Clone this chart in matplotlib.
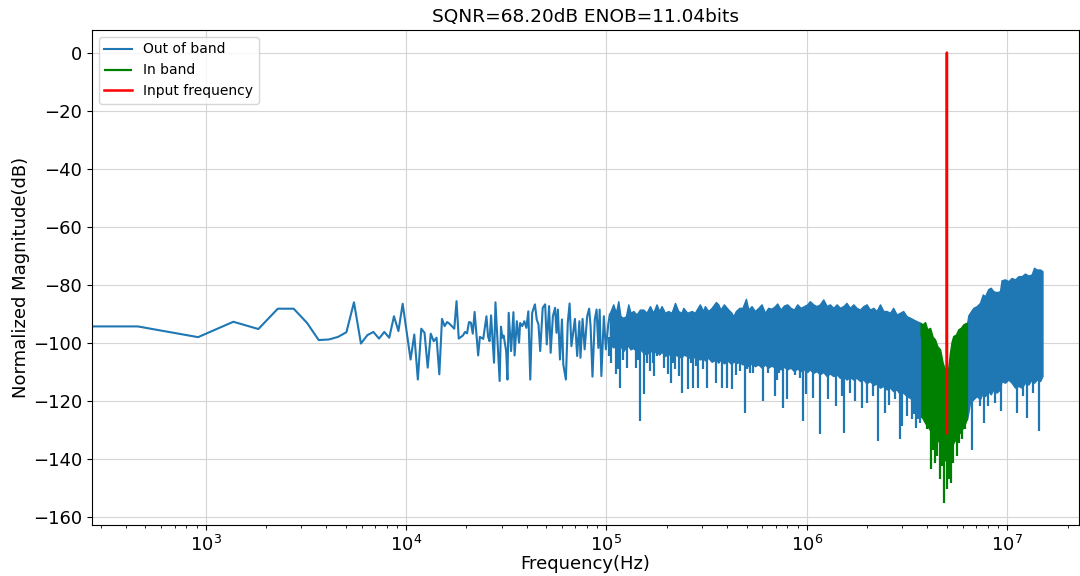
import numpy as np
import matplotlib.pyplot as plt

fs = 30e6
nfft = 65536
df = fs / nfft
f_in = 5e6

# resolved FFT bins at the low end (bin index, dB)
bin_idx = [0, 1, 2, 3, 4, 5, 6, 7, 8, 9, 10, 11, 12, 13, 14, 15, 16, 17, 18, 19,
           20, 21, 23, 24, 25, 26, 27, 28, 29, 30, 31, 32, 33, 34, 35, 36, 38, 39,
           40, 42, 43, 44, 45, 46, 47, 48, 50, 51, 53, 55, 56, 57, 58, 60, 61, 64,
           65, 66, 67, 69, 70, 71, 73, 75, 76, 78, 80, 81, 83, 85, 87, 89, 91, 93,
           96, 98, 100, 102, 105, 108, 110, 113, 115, 118, 121, 123, 125, 128, 131,
           133, 137, 140, 143, 146, 149, 152, 156, 160, 162, 166, 170, 175, 179,
           182, 186, 191, 195, 199, 202, 206, 212, 217, 223, 227]
bin_db = [-94.3, -94.3, -98.0, -92.7, -95.2, -88.2, -88.2, -93.1, -99.0, -98.8,
          -97.9, -96.3, -86.0, -100.2, -97.3, -96.2, -98.5, -96.2, -98.2, -90.8,
          -95.9, -86.5, -105.7, -97.1, -112.6, -95.1, -96.5, -108.5, -96.8, -99.4,
          -98.2, -110.8, -91.7, -94.2, -92.8, -93.4, -95.1, -85.6, -98.5, -97.4,
          -96.2, -96.7, -92.8, -93.0, -96.8, -89.3, -104.3, -97.9, -98.6, -90.8,
          -97.7, -99.4, -90.5, -106.8, -86.0, -113.1, -94.4, -98.2, -97.4, -102.8,
          -112.6, -89.6, -102.8, -89.4, -104.3, -92.5, -99.9, -93.1, -94.2, -92.5,
          -94.8, -89.1, -112.6, -89.6, -86.7, -91.9, -93.6, -102.8, -87.9, -86.7,
          -100.5, -87.3, -103.4, -90.8, -87.9, -96.5, -88.5, -105.7, -91.9, -107.4,
          -112.6, -93.1, -86.4, -101.1, -96.5, -91.7, -104.5, -92.5, -105.1, -91.7,
          -102.2, -90.8, -88.2, -94.2, -111.6, -91.9, -88.5, -101.7, -88.5, -111.4,
          -90.8, -102.2, -93.6, -90.2]

# dense out-of-band trace below the band: log10(Hz), top and solid bottom (dB)
lo_logf = [5.017, 5.034, 5.047, 5.059, 5.070, 5.084, 5.097, 5.109, 5.120, 5.134,
           5.150, 5.167, 5.184, 5.200, 5.217, 5.233, 5.250, 5.263, 5.275, 5.292,
           5.308, 5.325, 5.342, 5.358, 5.375, 5.383, 5.403, 5.425, 5.441, 5.466,
           5.483, 5.491, 5.508, 5.525, 5.546, 5.558, 5.569, 5.586, 5.608, 5.624,
           5.633, 5.646, 5.663, 5.679, 5.696, 5.708, 5.724, 5.741, 5.758, 5.774,
           5.791, 5.807, 5.824, 5.841, 5.852, 5.869, 5.886, 5.902, 5.919, 5.936,
           5.952, 5.969, 5.986, 6.002, 6.015, 6.032, 6.049, 6.065, 6.082, 6.099,
           6.115, 6.132, 6.149, 6.165, 6.182, 6.198, 6.215, 6.232, 6.248, 6.265,
           6.282, 6.298, 6.315, 6.332, 6.348, 6.365, 6.382, 6.398, 6.415, 6.431,
           6.448, 6.465, 6.481, 6.498, 6.515, 6.531, 6.548, 6.568]
lo_top = [-89.6, -86.7, -89.6, -85.6, -90.8, -91.3, -90.8, -86.7, -89.6, -89.0,
          -90.2, -88.5, -88.5, -89.6, -87.3, -89.6, -86.7, -89.0, -87.3, -89.6,
          -89.0, -89.6, -86.2, -89.0, -89.6, -87.9, -89.6, -89.0, -89.6, -86.7,
          -89.0, -87.3, -89.0, -87.9, -85.9, -86.7, -88.5, -86.7, -88.5, -89.6,
          -90.8, -89.0, -87.9, -87.9, -84.8, -88.5, -87.3, -89.0, -87.9, -86.7,
          -89.6, -87.9, -88.2, -87.3, -86.4, -88.5, -87.1, -86.7, -87.9, -88.5,
          -86.7, -87.9, -87.3, -86.7, -85.6, -86.7, -87.3, -86.7, -85.0, -87.3,
          -86.7, -87.9, -86.7, -87.9, -87.3, -86.2, -87.9, -86.7, -87.9, -88.5,
          -87.3, -86.7, -88.5, -87.9, -89.0, -86.7, -89.0, -89.0, -89.6, -87.9,
          -90.2, -89.6, -89.0, -90.8, -91.3, -91.9, -92.5, -93.1]
lo_bot = [-100.5, -101.5, -100.8, -102.5, -101.0, -102.8, -101.5, -101.0, -102.2,
          -101.7, -103.0, -102.0, -103.4, -104.0, -102.5, -103.4, -102.8, -104.0,
          -103.0, -104.5, -103.4, -105.1, -104.0, -104.5, -105.1, -104.0, -104.5,
          -105.7, -104.5, -105.7, -105.1, -106.0, -105.1, -106.5, -105.7, -106.8,
          -105.7, -107.0, -106.2, -107.4, -106.2, -107.0, -106.5, -107.4, -106.8,
          -108.0, -107.0, -108.0, -107.4, -108.5, -107.4, -108.5, -107.8, -108.5,
          -108.0, -109.1, -108.2, -109.1, -108.5, -109.7, -108.8, -109.7, -109.1,
          -110.0, -109.1, -110.3, -109.7, -110.8, -110.0, -111.4, -110.5, -111.4,
          -110.8, -112.0, -111.4, -112.6, -111.7, -112.6, -112.0, -113.1, -112.6,
          -113.9, -113.1, -114.5, -114.0, -115.4, -114.8, -116.0, -115.4, -116.6,
          -116.0, -117.7, -117.1, -118.3, -118.9, -120.0, -121.2, -123.5]
lo_dip_logf = [5.013, 5.025, 5.047, 5.058, 5.070, 5.083, 5.100, 5.147, 5.158,
               5.167, 5.188, 5.203, 5.217, 5.230, 5.237, 5.253, 5.287, 5.308,
               5.320, 5.333, 5.342, 5.363, 5.375, 5.408, 5.420, 5.433, 5.446,
               5.458, 5.480, 5.503, 5.546, 5.575, 5.600, 5.625, 5.646, 5.666,
               5.691, 5.702, 5.716, 5.732, 5.782, 5.807, 5.841, 5.852, 5.862,
               5.882, 5.899, 5.941, 5.966, 5.979, 5.996, 6.032, 6.065, 6.107,
               6.145, 6.174, 6.187, 6.215, 6.240, 6.274, 6.299, 6.328, 6.356,
               6.390, 6.411, 6.440, 6.465, 6.473, 6.498, 6.523, 6.535, 6.545,
               6.556, 6.565]
lo_dip_db = [-104.5, -106.8, -110.8, -109.1, -115.4, -105.7, -108.5, -108.5,
             -105.7, -126.9, -117.7, -106.8, -109.7, -106.8, -111.4, -104.5,
             -108.5, -110.8, -113.9, -106.8, -109.1, -111.4, -117.1, -116.0,
             -106.8, -115.4, -108.0, -115.4, -109.1, -115.4, -113.9, -115.4,
             -115.4, -116.0, -111.0, -109.5, -124.0, -109.1, -110.5, -110.5,
             -120.0, -110.5, -118.3, -112.6, -110.5, -122.3, -119.4, -111.0,
             -112.0, -126.9, -117.7, -118.9, -131.2, -119.4, -121.8, -118.3,
             -130.9, -117.1, -120.0, -122.3, -120.6, -118.3, -133.8, -124.0,
             -121.2, -119.4, -133.2, -128.6, -125.2, -126.3, -124.6, -129.2,
             -126.3, -127.5]

# in band (green)
ib_logf = [6.568, 6.578, 6.590, 6.601, 6.615, 6.628, 6.640, 6.651, 6.665, 6.678,
           6.686, 6.699, 6.706, 6.714, 6.723, 6.731, 6.744, 6.756, 6.768, 6.781,
           6.794, 6.799]
ib_top = [-93.1, -93.6, -92.8, -95.3, -94.8, -97.9, -98.8, -101.1, -102.2, -106.8,
          -108.5, -109.0, -108.5, -103.4, -99.4, -97.6, -97.1, -95.3, -94.8, -93.6,
          -93.1, -93.1]
ib_bot = [-125.2, -126.0, -127.5, -128.6, -130.0, -131.0, -132.0, -133.0, -135.0,
          -137.0, -140.0, -141.0, -139.0, -137.5, -136.0, -134.4, -133.0, -131.5,
          -130.5, -129.0, -127.0, -125.0]
ib_dip_logf = [6.598, 6.618, 6.631, 6.640, 6.651, 6.665, 6.676, 6.686, 6.698,
               6.709, 6.719, 6.731, 6.748, 6.761, 6.773, 6.789]
ib_dip_db = [-129.8, -143.5, -136.7, -141.2, -139.0, -147.0, -142.4, -155.0,
             -150.4, -147.0, -148.1, -141.2, -139.0, -134.4, -133.2, -129.8]

# out of band above the band
hi_logf = [6.799, 6.806, 6.814, 6.831, 6.848, 6.864, 6.878, 6.889, 6.906, 6.918,
           6.931, 6.947, 6.964, 6.972, 6.989, 7.006, 7.022, 7.039, 7.056, 7.072,
           7.089, 7.106, 7.122, 7.134, 7.147, 7.164, 7.176]
hi_top = [-93.6, -90.5, -89.6, -87.9, -87.3, -86.2, -83.3, -83.9, -81.4, -81.0,
          -82.2, -82.5, -82.2, -78.4, -78.1, -78.7, -77.6, -78.1, -77.0, -77.0,
          -76.1, -76.8, -76.4, -74.1, -74.7, -74.7, -75.3]
hi_bot = [-126.5, -124.0, -120.6, -119.4, -118.3, -119.4, -117.1, -118.3, -116.6,
          -117.7, -116.0, -117.1, -116.0, -113.1, -113.7, -112.6, -113.7, -115.4,
          -114.8, -115.4, -113.7, -114.3, -112.6, -113.7, -112.6, -113.1, -111.4]
hi_dip_logf = [6.825, 6.864, 6.884, 6.906, 6.939, 6.968, 7.048, 7.077, 7.100,
               7.130, 7.160]
hi_dip_db = [-136.7, -121.8, -127.5, -121.8, -120.6, -123.5, -124.0, -118.3,
             -125.8, -117.1, -130.4]

# input tone
sig_f = [f_in - df, f_in, f_in + df]
sig_db = [-131.0, 0.0, -131.0]

blue = '#1f77b4'
green = 'green'

fig, ax = plt.subplots(figsize=(10.8, 5.76), dpi=100)
ax.set_xscale('log', nonpositive='clip')
ax.set_axisbelow(True)

h1, = ax.plot(np.array(bin_idx) * df, bin_db, color=blue, lw=1.5, label='Out of band')
ax.fill_between(10 ** np.array(lo_logf), lo_bot, lo_top, color=blue, lw=1.0)
ax.vlines(10 ** np.array(lo_dip_logf), lo_dip_db, -98, color=blue, lw=1.6)
ax.fill_between(10 ** np.array(hi_logf), hi_bot, hi_top, color=blue, lw=1.0)
ax.vlines(10 ** np.array(hi_dip_logf), hi_dip_db, -100, color=blue, lw=1.6)

ax.fill_between(10 ** np.array(ib_logf), ib_bot, ib_top, color=green, lw=1.0)
h2 = ax.vlines(10 ** np.array(ib_dip_logf), ib_dip_db, -120, color=green, lw=1.6,
               label='In band')
h3, = ax.plot(sig_f, sig_db, color='red', lw=1.8, label='Input frequency')

ax.set_xlim(270, 2.28e7)
ax.set_ylim(-162.7, 7.8)
ax.grid(True, color='#d5d5d5', lw=0.8)
ax.tick_params(axis='both', labelsize=13)
ax.set_xlabel('Frequency(Hz)', fontsize=13, labelpad=0)
ax.set_ylabel('Normalized Magnitude(dB)', fontsize=13, labelpad=2)
ax.set_title('SQNR=68.20dB ENOB=11.04bits', fontsize=13.3)
ax.legend(handles=[h1, h2, h3], loc='upper left', fontsize=10)

fig.subplots_adjust(left=0.085, right=0.999, top=0.948, bottom=0.0885)
fig.savefig('out.png')
